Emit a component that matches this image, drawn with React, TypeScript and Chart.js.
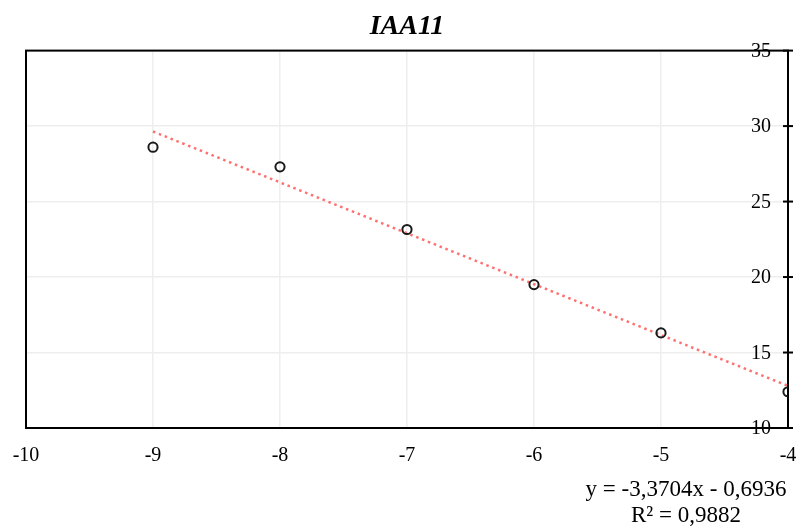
import React, { useEffect, useRef } from "react";
import { Chart, registerables } from "chart.js";

Chart.register(...registerables);

const chartTitle = "IAA11";
const xValues = [-9, -8, -7, -6, -5, -4];
const yValues = [28.6, 27.3, 23.15, 19.5, 16.3, 12.4];
const trendX = [-9, -4];
const trendY = [29.64, 12.79];
const equationLines = ["y = -3,3704x - 0,6936", "R² = 0,9882"];
const xMin = -10;
const xMax = -4;
const yMin = 10;
const yMax = 35;

const FONT = "'Liberation Serif', 'Times New Roman', serif";

const framePlugin = {
  id: "frame",
  beforeDatasetsDraw(chart: any) {
    const { ctx, chartArea } = chart;
    const { left, right, top, bottom } = chartArea;
    ctx.save();
    ctx.strokeStyle = "#000";
    ctx.lineWidth = 2;
    ctx.strokeRect(left, top, right - left, bottom - top);
    const yScale = chart.scales.y;
    ctx.fillStyle = "#000";
    ctx.font = `20px ${FONT}`;
    ctx.textAlign = "right";
    ctx.textBaseline = "middle";
    yScale.ticks.forEach((t: any) => {
      const py = yScale.getPixelForValue(t.value);
      ctx.beginPath();
      ctx.moveTo(right - 5, py);
      ctx.lineTo(right + 5, py);
      ctx.stroke();
      ctx.fillText(String(t.value), right - 17, py + 1);
    });
    ctx.restore();
  },
  afterDraw(chart: any) {
    const { ctx } = chart;
    ctx.save();
    ctx.fillStyle = "#000";
    ctx.font = `23px ${FONT}`;
    ctx.textAlign = "center";
    ctx.textBaseline = "middle";
    ctx.fillText(equationLines[0], 686, 490);
    ctx.fillText(equationLines[1], 686, 516);
    ctx.restore();
  },
};

export default function App() {
  const ref = useRef<HTMLCanvasElement | null>(null);
  useEffect(() => {
    document.body.style.margin = "0";
    if (!ref.current) return;
    const chart = new Chart(ref.current, {
      type: "scatter",
      data: {
        datasets: [
          {
            label: "data",
            data: xValues.map((x, i) => ({ x, y: yValues[i] })),
            showLine: false,
            pointRadius: 4.6,
            pointBorderWidth: 2,
            pointBorderColor: "#1a1a1a",
            pointBackgroundColor: "rgba(0,0,0,0)",
            order: 1,
          },
          {
            label: "trend",
            data: trendX.map((x, i) => ({ x, y: trendY[i] })),
            showLine: true,
            borderColor: "#ff7070",
            borderWidth: 2.5,
            borderDash: [2.5, 3.8],
            pointRadius: 0,
            order: 2,
          },
        ],
      },
      options: {
        animation: false,
        responsive: false,
        layout: { padding: { left: 26, right: 12, top: 0, bottom: 0 } },
        plugins: {
          legend: { display: false },
          tooltip: { enabled: false },
          title: {
            display: true,
            text: chartTitle,
            color: "#000",
            font: { family: FONT, size: 28, weight: "bold", style: "italic" },
            padding: { top: 10, bottom: 7 },
          },
        },
        scales: {
          x: {
            type: "linear",
            min: xMin,
            max: xMax,
            ticks: {
              stepSize: 1,
              color: "#000",
              font: { family: FONT, size: 20 },
              padding: 16,
            },
            grid: { color: "#eeeeee", lineWidth: 1.5, drawTicks: false },
            border: { display: false },
            afterFit(scale: any) {
              scale.height = 101;
              scale.paddingLeft = 0;
              scale.paddingRight = 0;
            },
          },
          y: {
            type: "linear",
            position: "right",
            min: yMin,
            max: yMax,
            ticks: { stepSize: 5, display: false },
            grid: { color: "#eeeeee", lineWidth: 1.5, drawTicks: false },
            border: { display: false },
            afterFit(scale: any) {
              scale.paddingTop = 0;
              scale.paddingBottom = 0;
            },
          },
        },
      },
      plugins: [framePlugin],
    });
    return () => chart.destroy();
  }, []);
  return (
    <div style={{ width: 800, height: 529, background: "#fff" }}>
      <canvas ref={ref} width={800} height={529} />
    </div>
  );
}
